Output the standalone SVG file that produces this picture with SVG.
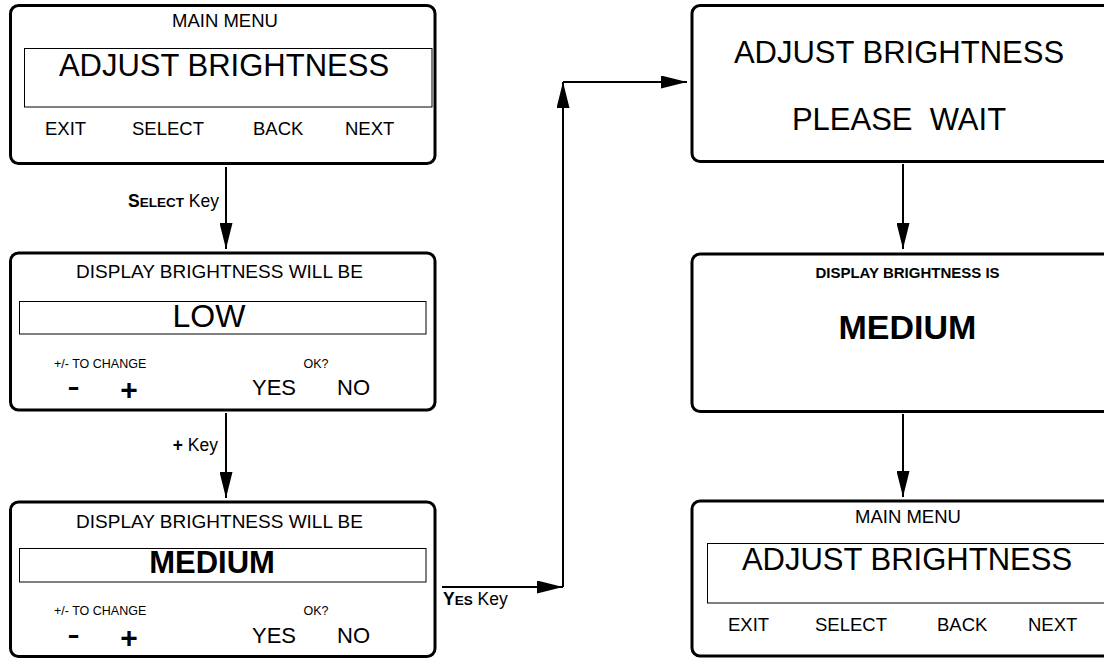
<svg xmlns="http://www.w3.org/2000/svg" width="1104" height="659" viewBox="0 0 1104 659">
<style>
.frame{fill:#fff;stroke:#000;stroke-width:3}
.lcd{fill:none;stroke:#000;stroke-width:1}
text{font-family:"Liberation Sans",Arial,sans-serif;fill:#000}
.m{text-anchor:middle}
.e{text-anchor:end}
.s{font-size:18.5px}
.h{font-size:19px}
.big{font-size:31px}
.tiny{font-size:12.5px}
.yn{font-size:22px}
.plus{font-size:30px;font-weight:bold}
.dash{font-size:26px;font-weight:bold}
.b{font-weight:bold}
.lbl{font-size:17.5px}
.sc{font-size:13.5px;font-weight:bold}
.conn{fill:none;stroke:#000;stroke-width:2}
</style>
<defs>
<marker id="arr" markerUnits="userSpaceOnUse" markerWidth="26" markerHeight="13" refX="26" refY="6.5" orient="auto">
<path d="M0,0 L26,6.5 L0,13 Z" fill="#000"/>
</marker>
</defs>
<rect width="1104" height="659" fill="#fff"/>

<g id="connectors">
<path class="conn" d="M226,167 L226,249" marker-end="url(#arr)"/>
<path class="conn" d="M226,413 L226,498" marker-end="url(#arr)"/>
<path class="conn" d="M442,587 L563,587" marker-end="url(#arr)"/>
<path class="conn" d="M563,587 L563,82" marker-end="url(#arr)"/>
<path class="conn" d="M563,82 L687,82" marker-end="url(#arr)"/>
<path class="conn" d="M903,164 L903,249" marker-end="url(#arr)"/>
<path class="conn" d="M903,414 L903,497" marker-end="url(#arr)"/>
<text class="lbl e" x="219" y="207"><tspan class="b">S</tspan><tspan class="sc">ELECT</tspan> Key</text>
<text class="lbl e" x="218" y="451"><tspan class="b">+</tspan> Key</text>
<text class="lbl" x="443" y="605"><tspan class="b">Y</tspan><tspan class="sc">ES</tspan> Key</text>
</g>

<g id="main-menu-1">
<rect class="frame" x="10.5" y="5.5" width="424.5" height="158" rx="8"/>
<rect class="lcd" x="24.5" y="48.5" width="407.5" height="58.5"/>
<text class="s m" x="225" y="27">MAIN MENU</text>
<text class="big m" x="224" y="76">ADJUST BRIGHTNESS</text>
<text class="s" x="45" y="135">EXIT</text>
<text class="s" x="132" y="135">SELECT</text>
<text class="s" x="253" y="135">BACK</text>
<text class="s" x="345" y="135">NEXT</text>
</g>

<g id="brightness-low">
<rect class="frame" x="10.5" y="253" width="424.5" height="157" rx="8"/>
<rect class="lcd" x="19.5" y="301.5" width="406.5" height="32.5"/>
<text class="h m" x="219.5" y="278">DISPLAY BRIGHTNESS WILL BE</text>
<text class="m" x="209" y="327" font-size="32">LOW</text>
<text class="tiny" x="54" y="368">+/- TO CHANGE</text>
<text class="tiny m" x="316" y="368">OK?</text>
<text class="dash m" transform="translate(73.5,395) scale(1.4,1)">-</text>
<text class="plus m" x="129" y="400">+</text>
<text class="yn" x="252" y="395">YES</text>
<text class="yn" x="337" y="395">NO</text>
</g>

<g id="brightness-medium">
<rect class="frame" x="10.5" y="502" width="424.5" height="154.5" rx="8"/>
<rect class="lcd" x="19.5" y="548.5" width="406.5" height="33.5"/>
<text class="h m" x="219.5" y="528">DISPLAY BRIGHTNESS WILL BE</text>
<text class="big b m" x="212" y="573">MEDIUM</text>
<text class="tiny" x="54" y="615">+/- TO CHANGE</text>
<text class="tiny m" x="316" y="615">OK?</text>
<text class="dash m" transform="translate(73.5,643) scale(1.4,1)">-</text>
<text class="plus m" x="129" y="648">+</text>
<text class="yn" x="252" y="643">YES</text>
<text class="yn" x="337" y="643">NO</text>
</g>

<g id="please-wait">
<rect class="frame" x="692" y="5.5" width="424.5" height="156" rx="8"/>
<text class="big m" x="899" y="63">ADJUST BRIGHTNESS</text>
<text class="big m" x="899" y="130" xml:space="preserve">PLEASE  WAIT</text>
</g>

<g id="brightness-is">
<rect class="frame" x="692" y="254" width="424.5" height="157.5" rx="8"/>
<text class="b m" x="907.5" y="278" font-size="15">DISPLAY BRIGHTNESS IS</text>
<text class="b m" x="907.5" y="339" font-size="34">MEDIUM</text>
</g>

<g id="main-menu-2">
<rect class="frame" x="692" y="501" width="424.5" height="155" rx="8"/>
<rect class="lcd" x="707.5" y="543.5" width="407.5" height="59.5"/>
<text class="s m" x="908" y="523">MAIN MENU</text>
<text class="big m" x="907" y="570">ADJUST BRIGHTNESS</text>
<text class="s" x="728" y="631">EXIT</text>
<text class="s" x="815" y="631">SELECT</text>
<text class="s" x="937" y="631">BACK</text>
<text class="s" x="1028" y="631">NEXT</text>
</g>
</svg>
